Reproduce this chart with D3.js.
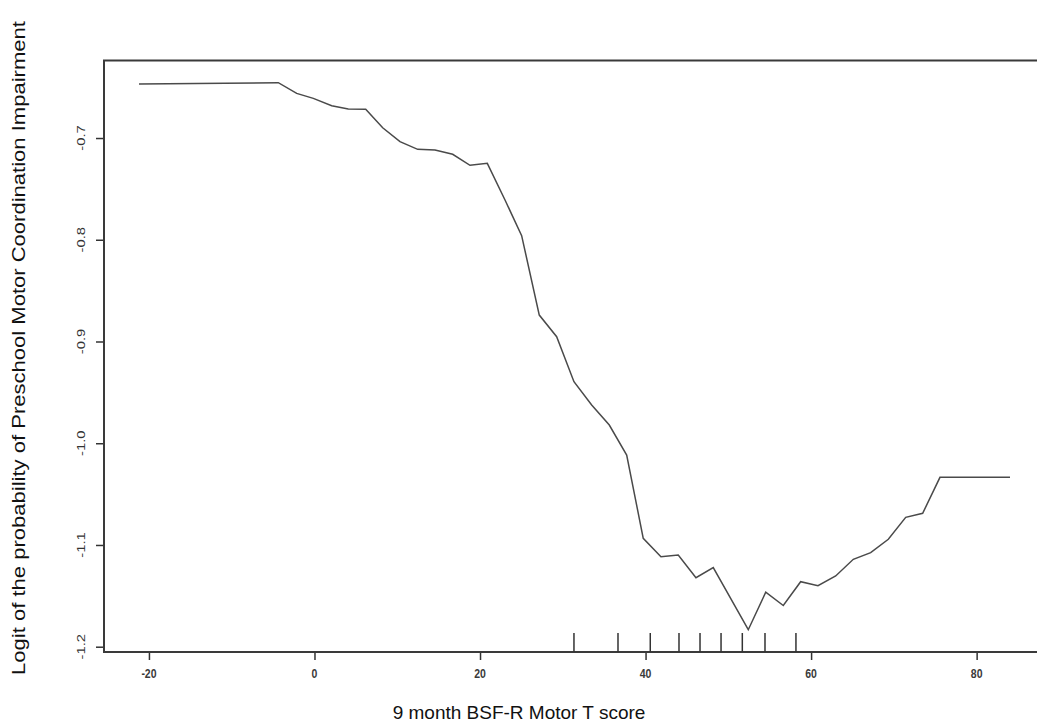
<!DOCTYPE html>
<html><head><meta charset="utf-8">
<script src="https://cdn.jsdelivr.net/npm/d3@7"></script>
<style>body{margin:0;background:#fff;overflow:hidden}</style>
</head><body><svg id="c" width="1037" height="725"></svg>
<script>
// Curve (x = 9 month BSF-R Motor T score, y = logit)
const xValues = [-21.2, -10.8, -4.37, -2.15, -0.14, 2.08, 4.08, 6.19, 8.24, 10.33, 12.47, 14.56, 16.70, 18.79, 20.88, 23.02, 25.03, 27.16, 29.26, 31.35, 33.49, 35.62, 37.72, 39.72, 41.86, 43.95, 46.09, 48.18, 52.41, 54.52, 56.64, 58.74, 60.83, 62.97, 65.10, 67.20, 69.33, 71.43, 73.48, 75.57, 84.03];
const yValues = [-0.6469, -0.6462, -0.6456, -0.6561, -0.6610, -0.6682, -0.6715, -0.6718, -0.6899, -0.7036, -0.7111, -0.7118, -0.7160, -0.7268, -0.7249, -0.7609, -0.7960, -0.8740, -0.8953, -0.9395, -0.9624, -0.9821, -1.0116, -1.0935, -1.1115, -1.1099, -1.1322, -1.1222, -1.1833, -1.1464, -1.1595, -1.1361, -1.1401, -1.1305, -1.1141, -1.1076, -1.0944, -1.0728, -1.0689, -1.0335, -1.0335];
// Rug marks
const rugValues = [31.35, 36.67, 40.57, 44.04, 46.58, 49.12, 51.69, 54.43, 58.17];
// Ticks
const xTicks = [-20, 0, 20, 40, 60, 80];
const xTickLabels = ["-20", "0", "20", "40", "60", "80"];
const yTicks = [-0.7, -0.8, -0.9, -1.0, -1.1, -1.2];
const yTickLabels = ["-0.7", "-0.8", "-0.9", "-1.0", "-1.1", "-1.2"];
const xTitle = "9 month BSF-R Motor T score";
const yTitle = "Logit of the probability of Preschool Motor Coordination Impairment";

const L = 104, R = 1045, T = 60.5, B = 652;
const svg = d3.select("#c");
const font = "'Liberation Sans', Arial, sans-serif";

const x = d3.scaleLinear().domain([-25.43, 88.26]).range([L, R]);
const y = d3.scaleLinear().domain([-1.2052, -0.6238]).range([B, T]);

// axes (ticks only)
const gx = svg.append("g").attr("transform", `translate(0,${B})`)
  .call(d3.axisBottom(x).tickValues(xTicks).tickSize(8).tickFormat(""));
gx.select(".domain").remove();
gx.selectAll(".tick line").attr("stroke", "#333").attr("stroke-width", 1.5);

const gy = svg.append("g").attr("transform", `translate(${L},0)`)
  .call(d3.axisLeft(y).tickValues(yTicks).tickSize(8).tickFormat(""));
gy.select(".domain").remove();
gy.selectAll(".tick line").attr("stroke", "#333").attr("stroke-width", 1.5);

// x tick labels
svg.append("g").selectAll("text").data(xTicks).join("text")
  .attr("transform", d => `translate(${x(d)},674) scale(1,1.2)`)
  .attr("text-anchor", "middle").attr("dominant-baseline", "central")
  .attr("font-family", font).attr("font-size", 10.5).attr("font-weight", "bold").attr("fill", "#3a3a3a")
  .text((d, i) => xTickLabels[i]);

// y tick labels (rotated)
svg.append("g").selectAll("text").data(yTicks).join("text")
  .attr("transform", d => `translate(81,${y(d)}) rotate(-90) scale(1.35,1)`)
  .attr("text-anchor", "middle").attr("dominant-baseline", "central")
  .attr("font-family", font).attr("font-size", 11).attr("fill", "#333")
  .text((d, i) => yTickLabels[i]);

// frame
svg.append("rect").attr("x", L).attr("y", T).attr("width", R - L).attr("height", B - T)
  .attr("fill", "none").attr("stroke", "#3a3a3a").attr("stroke-width", 2);

// rug
svg.append("g").selectAll("line").data(rugValues).join("line")
  .attr("x1", d => x(d)).attr("x2", d => x(d))
  .attr("y1", B).attr("y2", B - 19)
  .attr("stroke", "#333").attr("stroke-width", 1.5);

// curve
const pts = xValues.map((v, i) => [v, yValues[i]]);
svg.append("path").datum(pts)
  .attr("fill", "none").attr("stroke", "#4a4a4a").attr("stroke-width", 1.5)
  .attr("d", d3.line().x(d => x(d[0])).y(d => y(d[1])));

// titles
svg.append("text").attr("x", 519).attr("y", 712)
  .attr("text-anchor", "middle").attr("dominant-baseline", "central")
  .attr("font-family", font).attr("font-size", 19).attr("fill", "#111")
  .text(xTitle);
svg.append("text").attr("transform", "translate(18,348) rotate(-90) scale(1.16,1)")
  .attr("text-anchor", "middle").attr("dominant-baseline", "central")
  .attr("font-family", font).attr("font-size", 19).attr("fill", "#111")
  .text(yTitle);
</script>
</body></html>
